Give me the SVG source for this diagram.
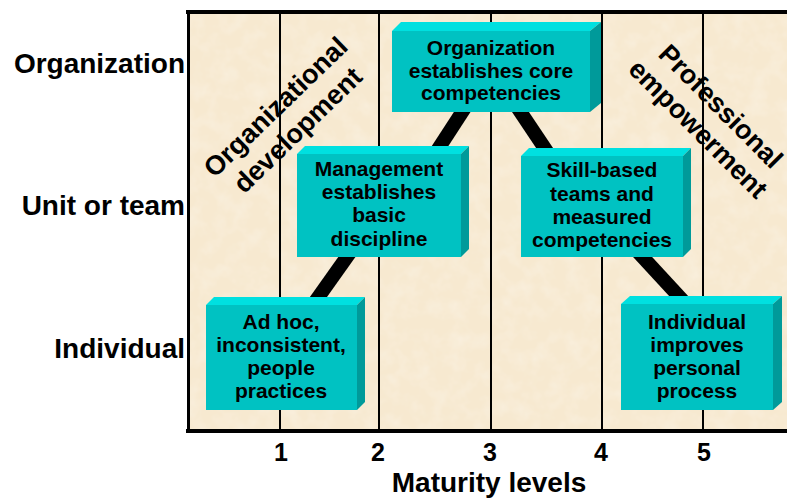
<svg xmlns="http://www.w3.org/2000/svg" width="787" height="500" viewBox="0 0 787 500">
<defs>
<style>
.lbl{font-family:"Liberation Sans",Arial,sans-serif;font-weight:bold;fill:#000}
.side{font-size:28px;text-anchor:end}
.num{font-size:25px;text-anchor:middle}
.axis{font-size:28px;text-anchor:middle}
.diag{font-size:27px;text-anchor:middle}
.bt{font-size:21px;text-anchor:middle}
.front{fill:#00C2C2}
.top{fill:#00E0E0}
.right{fill:#009A9A}
.grid{stroke:#000;stroke-width:2}
.conn{stroke:#000;stroke-width:14;fill:none}
</style>
<filter id="tex" x="0" y="0" width="100%" height="100%">
<feTurbulence type="fractalNoise" baseFrequency="0.06" numOctaves="3" seed="7"/>
<feColorMatrix type="matrix" values="0 0 0 0 1  0 0 0 0 1  0 0 0 0 1  0.5 0 0 0 -0.2"/>
</filter>
</defs>
<rect width="787" height="500" fill="#fff"/>
<g id="chart-bg">
<rect x="190" y="14" width="597" height="415" fill="#F7E9D0"/>
<rect x="190" y="14" width="597" height="415" fill="#fff" filter="url(#tex)"/>
</g>
<g id="gridlines">
<line class="grid" x1="280" y1="14" x2="280" y2="429"/>
<line class="grid" x1="379" y1="14" x2="379" y2="429"/>
<line class="grid" x1="491" y1="14" x2="491" y2="429"/>
<line class="grid" x1="602" y1="14" x2="602" y2="429"/>
<line class="grid" x1="703" y1="14" x2="703" y2="429"/>
</g>
<g id="axes">
<rect x="186" y="10" width="601" height="4" fill="#000"/>
<rect x="186" y="429" width="601" height="4" fill="#000"/>
<rect x="187" y="10" width="3" height="423" fill="#000"/>
</g>
<g id="row-labels" class="lbl side">
<text x="185" y="73">Organization</text>
<text x="185" y="215">Unit or team</text>
<text x="185" y="358">Individual</text>
</g>
<g id="axis-labels" class="lbl">
<text class="num" x="281" y="461">1</text>
<text class="num" x="378" y="461">2</text>
<text class="num" x="490" y="461">3</text>
<text class="num" x="601" y="461">4</text>
<text class="num" x="704" y="461">5</text>
<text class="axis" x="489" y="492">Maturity levels</text>
</g>
<g id="org-dev" class="lbl diag" transform="translate(286,118) rotate(-44)">
<text x="0" y="-6">Organizational</text>
<text x="0" y="26">development</text>
</g>
<g id="prof-emp" class="lbl diag" transform="translate(710,117) rotate(45)">
<text x="0" y="-6">Professional</text>
<text x="0" y="26">empowerment</text>
</g>
<g id="connectors">
<line class="conn" x1="295" y1="330" x2="366" y2="230"/>
<line class="conn" x1="418" y1="180" x2="483" y2="80"/>
<line class="conn" x1="499" y1="80" x2="566" y2="180"/>
<line class="conn" x1="590" y1="200" x2="710" y2="330"/>
</g>
<g id="box-adhoc">
<polygon class="top" points="206,305 214,297 365,297 357,305"/>
<polygon class="right" points="357,305 365,297 365,402 357,410"/>
<rect class="front" x="206" y="305" width="151" height="105"/>
<g class="lbl bt"><text x="281" y="329">Ad hoc,</text><text x="281" y="352">inconsistent,</text><text x="281" y="375">people</text><text x="281" y="398">practices</text></g>
</g>
<g id="box-management">
<polygon class="top" points="297,154 305,146 469,146 461,154"/>
<polygon class="right" points="461,154 469,146 469,249 461,257"/>
<rect class="front" x="297" y="154" width="164" height="103"/>
<g class="lbl bt"><text x="379" y="176">Management</text><text x="379" y="199">establishes</text><text x="379" y="222">basic</text><text x="379" y="246">discipline</text></g>
</g>
<g id="box-organization">
<polygon class="top" points="392,31 401,22 601,22 590,31"/>
<polygon class="right" points="590,31 601,22 601,103 590,112"/>
<rect class="front" x="392" y="31" width="198" height="81"/>
<g class="lbl bt"><text x="491" y="55">Organization</text><text x="491" y="78">establishes core</text><text x="491" y="100">competencies</text></g>
</g>
<g id="box-skill">
<polygon class="top" points="521,156 529,148 691,148 683,156"/>
<polygon class="right" points="683,156 691,148 691,249 683,257"/>
<rect class="front" x="521" y="156" width="162" height="101"/>
<g class="lbl bt"><text x="602" y="177">Skill-based</text><text x="602" y="201">teams and</text><text x="602" y="224">measured</text><text x="602" y="247">competencies</text></g>
</g>
<g id="box-individual">
<polygon class="top" points="621,304 630,296 782,296 773,304"/>
<polygon class="right" points="773,304 782,296 782,402 773,410"/>
<rect class="front" x="621" y="304" width="152" height="106"/>
<g class="lbl bt"><text x="697" y="329">Individual</text><text x="697" y="352">improves</text><text x="697" y="375">personal</text><text x="697" y="398">process</text></g>
</g>
</svg>
